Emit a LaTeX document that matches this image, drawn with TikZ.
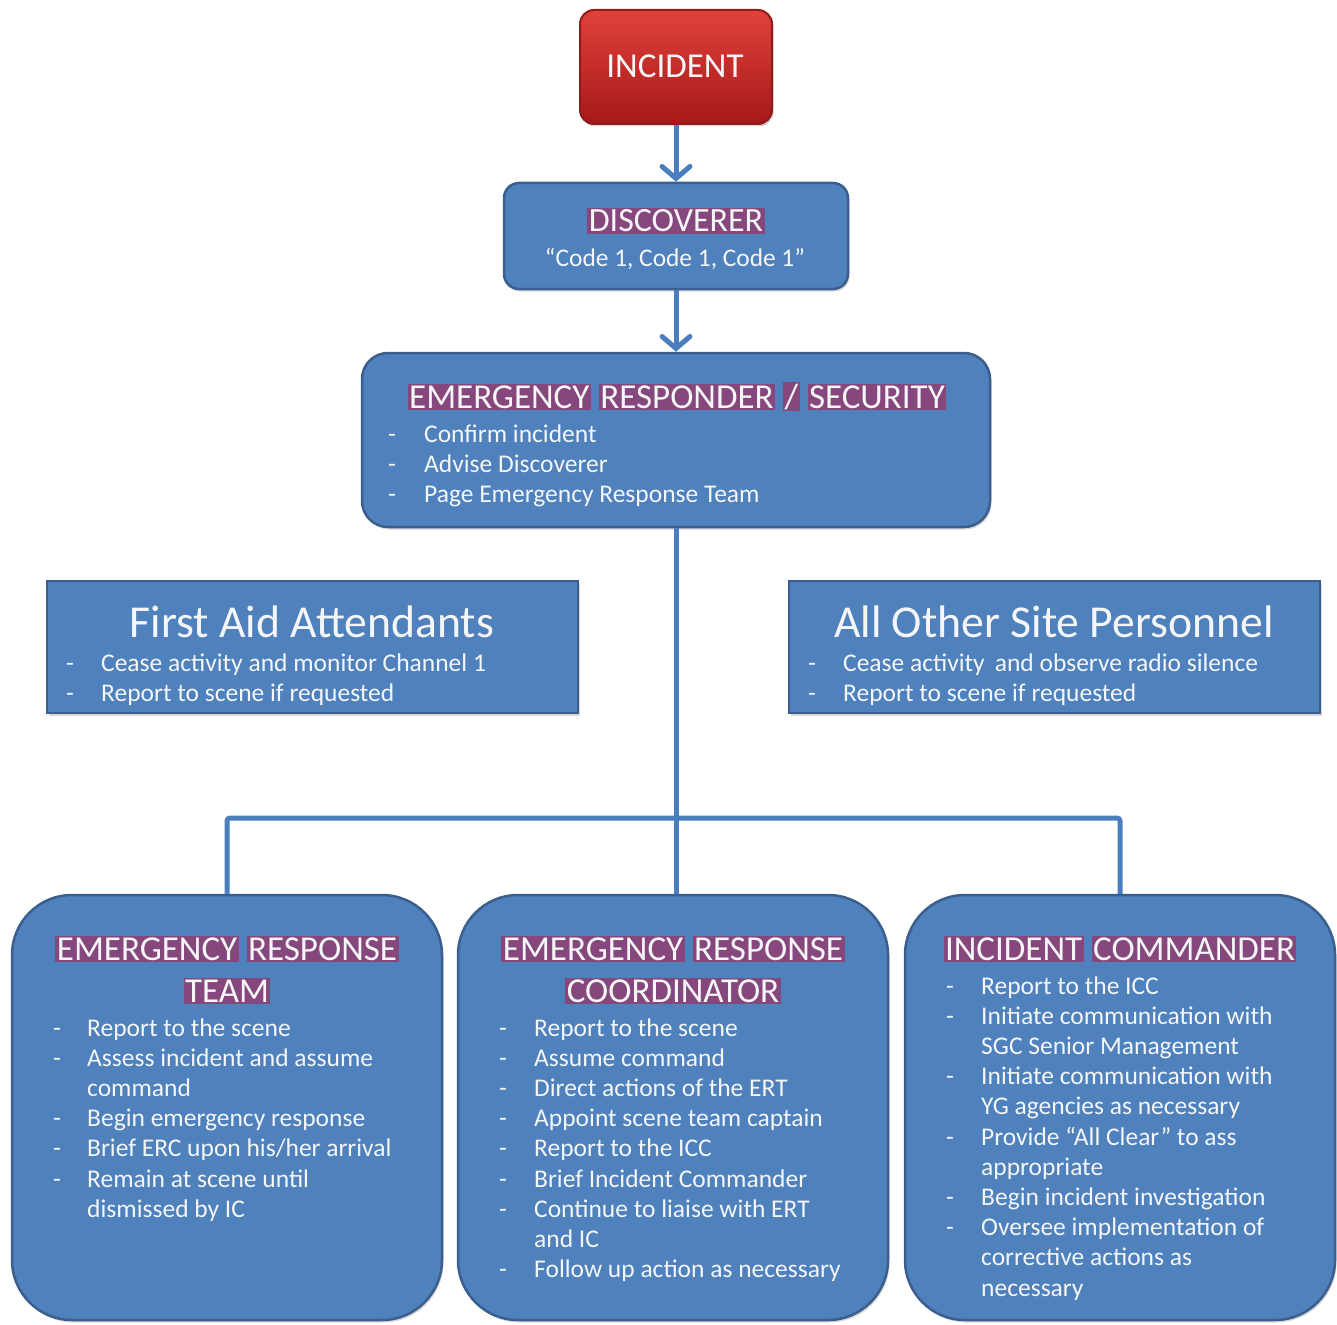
\documentclass[tikz,border=0pt]{standalone}
\usepackage{fontspec}
\setmainfont{Carlito}
\usetikzlibrary{arrows.meta,shadows}
\definecolor{boxblue}{HTML}{4F81BD}
\definecolor{boxborder}{HTML}{3A5F8E}
\definecolor{lineblue}{HTML}{4A7EBF}
\definecolor{txtwhite}{HTML}{F4F6F8}
\definecolor{redtop}{HTML}{E0423A}
\definecolor{redbot}{HTML}{A6181A}
\definecolor{redborder}{HTML}{8E1C1C}
\definecolor{glowc}{HTML}{85477C}
\newcommand\hl[1]{{\setlength{\fboxsep}{1.5pt}\colorbox{glowc}{#1}}}
\newcommand\itemlist[2][35pt]{\begin{tabular}[t]{@{}p{#1}@{}l@{}}#2\end{tabular}}
\begin{document}
\begin{tikzpicture}[x=1pt,y=-1pt,
  bluebox/.style={draw=boxborder, line width=2.5pt, fill=boxblue, inner sep=0pt,
    drop shadow={opacity=0.3, shadow xshift=1.5pt, shadow yshift=-2.5pt}},
  redbox/.style={draw=redborder, line width=2pt, top color=redtop, bottom color=redbot,
    rounded corners=14pt, inner sep=0pt,
    drop shadow={opacity=0.3, shadow xshift=1.5pt, shadow yshift=-2.5pt}},
  conn/.style={draw=lineblue, line width=5pt, rounded corners=3pt},
  arr/.style={conn, -{Straight Barb[length=12pt,width=28pt,line cap=round]}},
  ttl/.style={font=\fontsize{35}{41}\selectfont, text=txtwhite, anchor=base, inner sep=0pt},
  bigttl/.style={font=\fontsize{45.7}{52}\selectfont, text=txtwhite, anchor=base, inner sep=0pt},
  lst/.style={font=\fontsize{25.5}{30.2}\selectfont, text=txtwhite, anchor=base west, inner sep=0pt},
]
\useasboundingbox (0,0) rectangle (1337,1324);

% boxes
\node[redbox, minimum width=192pt, minimum height=114pt] (inc) at (676,67) {};
\node[bluebox, rounded corners=15pt, minimum width=344pt, minimum height=106pt] (disc) at (676,236) {};
\node[bluebox, rounded corners=26pt, minimum width=628pt, minimum height=174pt] (ers) at (676,440) {};
\node[bluebox, line width=2pt, minimum width=531pt, minimum height=132pt] (fa) at (312.5,647) {};
\node[bluebox, line width=2pt, minimum width=531pt, minimum height=132pt] (ao) at (1054.5,647) {};
\node[bluebox, rounded corners=60pt, minimum width=430pt, minimum height=425pt] (ert) at (227,1107.5) {};
\node[bluebox, rounded corners=60pt, minimum width=430pt, minimum height=425pt] (erc) at (673,1107.5) {};
\node[bluebox, rounded corners=60pt, minimum width=430pt, minimum height=425pt] (ic) at (1120,1107.5) {};

% connectors
\coordinate (jn) at (676,818);
\draw[arr] (inc.south) -- (disc.north);
\draw[arr] (disc.south) -- (ers.north);
\draw[conn] (ers.south) -- (ers.south |- erc.north);
\draw[conn] (ert.north) -- (ert.north |- jn) -- (ic.north |- jn) -- (ic.north);

% texts
\node[ttl] (tinc) at (675,78) {INCIDENT};
\node[ttl, font=\fontsize{34}{40}\selectfont] (tdisc) at (676,232) {\hl{DISCOVERER}};
\node[lst, anchor=base, font=\fontsize{25.4}{30}\selectfont] (tcode) at (675,266) {“Code 1, Code 1, Code 1”};

\node[ttl] (ters) at (677,408) {\hl{EMERGENCY} \hl{RESPONDER} \hl{/} \hl{SECURITY}};
\node[lst] (lers) at (388,442) {\itemlist[36pt]{
- & Confirm incident\\
- & Advise Discoverer\\
- & Page Emergency Response Team\\}};

\node[bigttl] (tfa) at (312,637) {First Aid Attendants};
\node[lst] (lfa) at (66,671) {\itemlist{
- & Cease activity and monitor Channel 1\\
- & Report to scene if requested\\}};

\node[bigttl] (tao) at (1054,637) {All Other Site Personnel};
\node[lst] (lao) at (808,671) {\itemlist{
- & Cease activity\, and observe radio silence\\
- & Report to scene if requested\\}};

\node[ttl] (tert1) at (227,960) {\hl{EMERGENCY} \hl{RESPONSE}};
\node[ttl] (tert2) at (227,1002) {\hl{TEAM}};
\node[lst] (lert) at (53,1036) {\itemlist[34pt]{
- & Report to the scene\\
- & Assess incident and assume\\
  & command\\
- & Begin emergency response\\
- & Brief ERC upon his/her arrival\\
- & Remain at scene until\\
  & dismissed by IC\\}};

\node[ttl] (terc1) at (673,960) {\hl{EMERGENCY} \hl{RESPONSE}};
\node[ttl] (terc2) at (673,1002) {\hl{COORDINATOR}};
\node[lst] (lerc) at (499,1036) {\itemlist{
- & Report to the scene\\
- & Assume command\\
- & Direct actions of the ERT\\
- & Appoint scene team captain\\
- & Report to the ICC\\
- & Brief Incident Commander\\
- & Continue to liaise with ERT\\
  & and IC\\
- & Follow up action as necessary\\}};

\node[ttl] (tic) at (1120,960) {\hl{INCIDENT} \hl{COMMANDER}};
\node[lst] (lic) at (946,994) {\itemlist{
- & Report to the ICC\\
- & Initiate communication with\\
  & SGC Senior Management\\
- & Initiate communication with\\
  & YG agencies as necessary\\
- & Provide “All Clear” to ass\\
  & appropriate\\
- & Begin incident investigation\\
- & Oversee implementation of\\
  & corrective actions as\\
  & necessary\\}};
\end{tikzpicture}
\end{document}
